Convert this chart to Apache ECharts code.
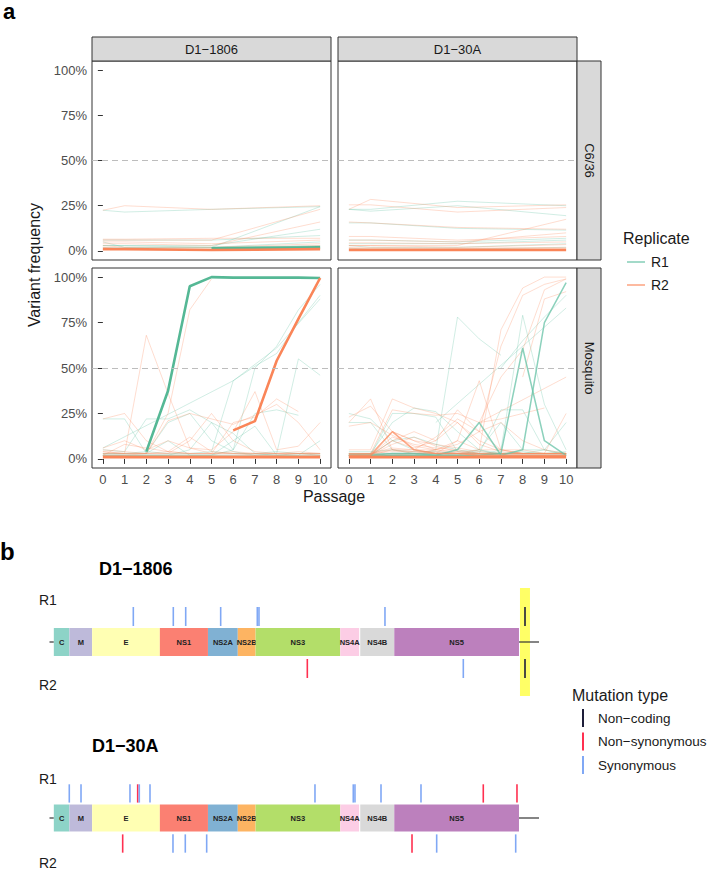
<!DOCTYPE html>
<html><head><meta charset="utf-8">
<script src="https://cdn.jsdelivr.net/npm/echarts@6/dist/echarts.min.js"></script>
<style>html,body{margin:0;padding:0;background:#fff}#chart{width:708px;height:870px}</style>
</head><body><div id="chart"></div>
<script>
// ---------------- DATA: panel a ----------------
const passagesC636 = [0, 1, 5, 10];
const passagesMosq = [0, 1, 2, 3, 4, 5, 6, 7, 8, 9, 10];
const yTicks = [0, 0.25, 0.5, 0.75, 1];
const xTicks = [0, 1, 2, 3, 4, 5, 6, 7, 8, 9, 10];
const strainNames = ['D1\u22121806', 'D1\u221230A'];
const hostNames = ['C6/36', 'Mosquito'];
const replicateNames = ['R1', 'R2'];

// C6/36, D1-1806
const c636_1806_R1 = [
  [0.225, 0.215, 0.23, 0.245],
  [0.03, 0.03, 0.02, 0.245],
  [0.03, 0.03, 0.03, 0.12],
  [0.06, 0.06, 0.06, 0.085],
  [0.05, 0.02, 0.02, 0.05],
  [0.02, 0.02, 0.02, 0.03],
  [0.01, 0.01, 0.01, 0.02]
];
const c636_1806_R2 = [
  [0.225, 0.25, 0.23, 0.25],
  [0.06, 0.06, 0.06, 0.23],
  [0.04, 0.04, 0.03, 0.16],
  [0.065, 0.065, 0.07, 0.07],
  [0.05, 0.05, 0.04, 0.06],
  [0.03, 0.02, 0.02, 0.04],
  [0.02, 0.01, 0.01, 0.03]
];
const c636_1806_R1_mid = [];
const c636_1806_R2_mid = [];
const c636_1806_R1_main = [[null, null, 0.015, 0.02]];
const c636_1806_R2_main = [[0.01, 0.01, 0.005, 0.01]];

// C6/36, D1-30A
const c636_30A_R1 = [
  [0.23, 0.23, 0.275, 0.25],
  [0.23, 0.22, 0.25, 0.195],
  [0.155, 0.155, 0.125, 0.115],
  [0.06, 0.06, 0.05, 0.07],
  [0.04, 0.04, 0.04, 0.06],
  [0.03, 0.02, 0.02, 0.04],
  [0.015, 0.01, 0.01, 0.02]
];
const c636_30A_R2 = [
  [0.23, 0.285, 0.24, 0.255],
  [0.255, 0.255, 0.215, 0.24],
  [0.16, 0.155, 0.13, 0.12],
  [0.08, 0.08, 0.06, 0.08],
  [0.03, 0.03, 0.03, 0.175],
  [0.06, 0.06, 0.05, 0.10],
  [0.045, 0.045, 0.04, 0.05],
  [0.03, 0.03, 0.02, 0.035],
  [0.02, 0.02, 0.015, 0.02]
];
const c636_30A_R1_mid = [];
const c636_30A_R2_mid = [];
const c636_30A_R1_main = [];
const c636_30A_R2_main = [[0.006, 0.006, 0.006, 0.006]];

// Mosquito, D1-1806
const mosq_1806_R1 = [
  [0.06, null, null, null, null, null, 0.43, null, 0.61, null, 0.88],
  [0.05, 0.04, 0.22, 0.22, 0.27, 0.2, 0.14, 0.03, 0.02, 0.02, 0.02],
  [0.02, 0.02, 0.02, 0.02, 0.02, 0.02, 0.05, 0.5, 0.62, 0.82, 0.96],
  [null, null, null, null, null, 0.04, 0.43, 0.51, 0.58, 0.75, 0.9],
  [0.02, 0.02, 0.02, 0.02, 0.02, 0.02, 0.02, 0.02, 0.03, 0.55, 0.46],
  [0.22, 0.22, 0.03, 0.2, 0.25, 0.1, 0.04, 0.02, 0.02, 0.03, 0.02],
  [0.02, 0.02, 0.02, 0.02, 0.05, 0.2, 0.05, 0.25, 0.27, 0.24, null],
  [0.03, 0.03, 0.03, 0.1, 0.02, 0.02, 0.1, 0.18, 0.02, 0.02, 0.1],
  [0.02, 0.02, 0.02, 0.02, 0.02, 0.02, 0.02, 0.02, 0.02, 0.02, 0.02],
  [0.03, 0.03, 0.04, 0.03, 0.03, 0.04, 0.03, 0.03, 0.04, 0.03, 0.03]
];
const mosq_1806_R2 = [
  [0.22, 0.25, 0.1, 0.04, 0.03, 0.03, 0.03, 0.03, 0.03, 0.03, 0.03],
  [0.03, 0.03, 0.68, 0.36, 0.06, 0.03, 0.03, 0.03, 0.03, 0.03, 0.03],
  [0.02, 0.02, 0.03, 0.25, 0.82, 0.99, null, null, null, null, null],
  [0.04, 0.03, 0.03, 0.03, 0.03, 0.03, 0.2, 0.23, 0.33, 0.26, null],
  [0.05, 0.04, 0.03, 0.21, 0.25, 0.22, 0.19, 0.24, 0.3, 0.2, 0.05],
  [0.03, 0.03, 0.03, 0.03, 0.1, 0.25, 0.1, 0.04, 0.03, 0.03, 0.03],
  [0.06, 0.1, 0.05, 0.1, 0.06, 0.05, 0.15, 0.37, 0.05, 0.07, 0.2],
  [0.02, 0.08, 0.06, 0.04, 0.12, 0.04, 0.03, 0.02, 0.02, 0.03, 0.02],
  [0.02, 0.02, 0.02, 0.02, 0.02, 0.02, 0.02, 0.02, 0.02, 0.02, 0.02],
  [0.04, 0.03, 0.03, 0.04, 0.03, 0.03, 0.04, 0.03, 0.03, 0.04, 0.03]
];
const mosq_1806_R1_mid = [];
const mosq_1806_R2_mid = [];
const mosq_1806_R1_main = [[null, null, 0.04, 0.375, 0.95, 1.0, 0.997, 0.997, 0.997, 0.997, 0.995]];
const mosq_1806_R2_main = [
  [0.01, 0.01, 0.01, 0.01, 0.01, 0.01, 0.01, 0.01, 0.01, 0.01, 0.01],
  [null, null, null, null, null, null, 0.157, 0.208, 0.54, 0.77, 0.995]
];

// Mosquito, D1-30A
const mosq_30A_R1 = [
  [0.02, 0.02, 0.02, 0.02, 0.05, 0.78, 0.66, 0.57, null, null, null],
  [null, null, null, null, 0.2, null, null, null, null, null, 0.83],
  [null, null, null, null, null, null, null, 0.5, 0.65, 0.78, 0.9],
  [0.25, 0.22, 0.1, 0.05, 0.03, 0.02, 0.02, 0.02, 0.02, 0.02, 0.02],
  [0.2, 0.2, 0.05, 0.03, 0.03, 0.03, 0.03, 0.03, 0.03, 0.03, 0.03],
  [0.03, 0.03, 0.2, 0.28, 0.26, 0.15, 0.05, 0.03, 0.03, 0.03, 0.03],
  [0.02, 0.02, 0.25, 0.25, 0.23, 0.04, 0.05, 0.02, 0.02, 0.02, 0.02],
  [0.02, 0.02, 0.02, 0.02, 0.02, 0.02, 0.05, 0.2, 0.05, 0.05, 0.02],
  [0.03, 0.03, 0.03, 0.03, 0.03, 0.03, 0.03, 0.27, 0.27, 0.05, 0.03],
  [0.02, 0.02, 0.02, 0.02, 0.02, 0.02, 0.02, 0.05, 0.79, 0.3, 0.05],
  [0.03, 0.03, 0.03, 0.03, 0.03, 0.03, 0.03, 0.03, 0.03, 0.05, 0.2],
  [0.02, 0.02, 0.1, 0.12, 0.08, 0.05, 0.03, 0.02, 0.02, 0.02, 0.02],
  [0.02, 0.02, 0.02, 0.02, 0.02, 0.02, 0.02, 0.02, 0.02, 0.02, 0.02],
  [0.04, 0.04, 0.05, 0.04, 0.04, 0.03, 0.04, 0.03, 0.04, 0.03, 0.04]
];
const mosq_30A_R2 = [
  [0.02, 0.02, 0.05, 0.03, 0.03, 0.1, 0.05, 0.71, 0.94, 1.0, 1.0],
  [0.02, 0.02, 0.03, 0.03, 0.05, 0.08, 0.15, 0.62, 0.9, 0.96, 0.99],
  [null, null, null, null, null, null, 0.2, 0.45, 0.6, 0.93, 0.99],
  [null, null, null, null, null, null, null, null, 0.45, 0.88, 0.92],
  [0.03, 0.03, 0.05, 0.05, 0.05, 0.1, 0.43, 0.05, 0.03, 0.03, 0.03],
  [null, null, null, null, null, null, 0.2, null, null, null, 0.45],
  [0.02, 0.02, 0.02, 0.03, 0.03, 0.03, 0.05, 0.05, 0.05, 0.03, 0.25],
  [0.2, 0.33, 0.05, 0.04, 0.04, 0.03, 0.03, 0.03, 0.03, 0.03, 0.03],
  [0.23, 0.29, 0.15, 0.1, 0.05, 0.03, 0.03, null, null, null, null],
  [0.05, 0.05, 0.33, 0.28, 0.25, 0.2, 0.1, 0.05, 0.03, 0.03, 0.03],
  [0.03, 0.03, 0.27, 0.25, 0.24, 0.25, 0.2, 0.22, 0.25, 0.28, null],
  [0.02, 0.02, 0.1, 0.15, 0.1, 0.27, 0.15, 0.2, 0.1, 0.05, 0.03],
  [0.02, 0.03, 0.15, 0.1, 0.08, 0.06, 0.04, 0.03, 0.03, 0.03, 0.03],
  [0.01, 0.02, 0.12, 0.08, 0.06, 0.05, 0.03, 0.03, 0.03, 0.03, 0.03],
  [0.02, 0.02, 0.08, 0.12, 0.07, 0.04, 0.03, 0.02, 0.02, 0.02, 0.02],
  [0.02, 0.02, 0.1, 0.06, 0.1, 0.2, 0.08, 0.04, 0.03, 0.03, 0.03],
  [0.03, 0.03, 0.06, 0.05, 0.12, 0.22, 0.15, 0.05, 0.03, 0.03, 0.03],
  [0.18, 0.2, 0.13, 0.07, 0.05, 0.04, 0.03, 0.03, 0.03, 0.03, 0.03],
  [0.02, 0.02, 0.02, 0.02, 0.02, 0.02, 0.02, 0.02, 0.02, 0.02, 0.02],
  [0.03, 0.03, 0.04, 0.04, 0.03, 0.03, 0.03, 0.03, 0.03, 0.03, 0.03]
];
const mosq_30A_R1_mid = [
  [0.02, 0.02, 0.03, 0.03, 0.02, 0.05, 0.2, 0.02, 0.05, 0.75, 0.97],
  [0.01, 0.01, 0.02, 0.02, 0.02, 0.02, 0.02, 0.03, 0.61, 0.1, 0.02]
];
const mosq_30A_R2_mid = [[0.02, 0.02, 0.15, 0.05, 0.03, 0.03, 0.02, 0.02, 0.02, 0.02, 0.02]];
const mosq_30A_R1_main = [];
const mosq_30A_R2_main = [[0.01, 0.01, 0.01, 0.01, 0.01, 0.01, 0.01, 0.01, 0.01, 0.01, 0.01]];

// ---------------- DATA: panel b ----------------
const genomeLength = 10735;
const geneNames = ['C', 'M', 'E', 'NS1', 'NS2A', 'NS2B', 'NS3', 'NS4A', 'NS4B', 'NS5'];
const geneStart = [95, 437, 935, 2420, 3476, 4130, 4520, 6377, 6815, 7561];
const geneEnd = [436, 934, 2419, 3475, 4129, 4519, 6376, 6790, 7560, 10296];
const utrStart = [0, 10296];
const utrEnd = [95, 10735];
const highlight1806 = [10318, 10537];

const mut1806_R1_pos = [1838, 2715, 2987, 3754, 4557, 4594, 7357, 10428];
const mut1806_R1_type = ['Synonymous', 'Synonymous', 'Synonymous', 'Synonymous', 'Synonymous', 'Synonymous', 'Synonymous', 'Non-coding'];
const mut1806_R2_pos = [5654, 9075, 10428];
const mut1806_R2_type = ['Non-synonymous', 'Synonymous', 'Non-coding'];
const mut30A_R1_pos = [434, 691, 1765, 1934, 1969, 2204, 5822, 6662, 6699, 7270, 8147, 9513, 10252];
const mut30A_R1_type = ['Synonymous', 'Synonymous', 'Synonymous', 'Non-synonymous', 'Synonymous', 'Synonymous', 'Synonymous', 'Synonymous', 'Synonymous', 'Synonymous', 'Synonymous', 'Non-synonymous', 'Non-synonymous'];
const mut30A_R2_pos = [1605, 2708, 2978, 3447, 7950, 8491, 10224];
const mut30A_R2_type = ['Non-synonymous', 'Synonymous', 'Synonymous', 'Synonymous', 'Non-synonymous', 'Synonymous', 'Synonymous'];
const mutationTypes = ['Non-coding', 'Non-synonymous', 'Synonymous'];
const mutationLabels = ['Non\u2212coding', 'Non\u2212synonymous', 'Synonymous'];

// ---------------- STYLE / LAYOUT ----------------
const FONT = '"Liberation Sans", Arial, sans-serif';
const repColors = { R1: '#66c2a5', R2: '#fc8d62' };
const repMainColors = { R1: '#55b895', R2: '#fa8558' };
const geneColors = ['#8dd3c7', '#bebada', '#ffffb3', '#fb8072', '#80b1d3', '#fdb462', '#b3de69', '#fccde5', '#d9d9d9', '#bc80bd'];
const mutColors = { 'Non-coding': '#1e1e3a', 'Non-synonymous': '#ff3050', 'Synonymous': '#80a8f5' };
const gridRects = [[92, 61, 239, 199], [338, 61, 239, 199], [92, 268, 239, 200], [338, 268, 239, 200]];
const bGridTops = [588, 766];

const panels = [
  { passages: passagesC636, R1: [c636_1806_R1, c636_1806_R1_mid, c636_1806_R1_main], R2: [c636_1806_R2, c636_1806_R2_mid, c636_1806_R2_main] },
  { passages: passagesC636, R1: [c636_30A_R1, c636_30A_R1_mid, c636_30A_R1_main], R2: [c636_30A_R2, c636_30A_R2_mid, c636_30A_R2_main] },
  { passages: passagesMosq, R1: [mosq_1806_R1, mosq_1806_R1_mid, mosq_1806_R1_main], R2: [mosq_1806_R2, mosq_1806_R2_mid, mosq_1806_R2_main] },
  { passages: passagesMosq, R1: [mosq_30A_R1, mosq_30A_R1_mid, mosq_30A_R1_main], R2: [mosq_30A_R2, mosq_30A_R2_mid, mosq_30A_R2_main] }
];
const levelStyles = [
  { width: 1, opacity: 0.3, z: 2 },
  { width: 1.5, opacity: 0.75, z: 3 },
  { width: 2.6, opacity: 1, z: 4 }
];

const grids = [], xAxes = [], yAxes = [], series = [];
gridRects.forEach((r, i) => {
  grids.push({ left: r[0], top: r[1], width: r[2], height: r[3], show: true, borderColor: '#333', borderWidth: 1, backgroundColor: '#fff', containLabel: false });
  xAxes.push({
    gridIndex: i, type: 'value', min: -0.5, max: 10.5,
    splitLine: { show: false }, axisLine: { show: false },
    axisTick: { show: i >= 2, customValues: xTicks, length: 5, lineStyle: { color: '#333' } },
    axisLabel: { show: i >= 2, customValues: xTicks, color: '#4d4d4d', fontSize: 13, margin: 5, fontFamily: FONT }
  });
  yAxes.push({
    gridIndex: i, type: 'value', min: -0.05, max: 1.05,
    splitLine: { show: false }, axisLine: { show: false },
    axisTick: { show: i % 2 === 0, customValues: yTicks, length: 5, lineStyle: { color: '#333' } },
    axisLabel: { show: i % 2 === 0, customValues: yTicks, color: '#4d4d4d', fontSize: 13, margin: 5, fontFamily: FONT,
      formatter: v => Math.round(v * 100) + '%' }
  });
});
// panel b grids
bGridTops.forEach(t => {
  grids.push({ left: 49.5, top: t, width: 489.5, height: 108, show: false });
});
bGridTops.forEach((t, k) => {
  xAxes.push({ gridIndex: 4 + k, type: 'value', min: 0, max: genomeLength, show: false });
  yAxes.push({ gridIndex: 4 + k, type: 'value', min: -54, max: 54, show: false });
});

// dashed 50% lines
gridRects.forEach((r, i) => {
  series.push({
    type: 'line', xAxisIndex: i, yAxisIndex: i, data: [], silent: true, z: 1,
    markLine: { silent: true, symbol: 'none', label: { show: false }, animation: false,
      lineStyle: { color: '#bdbdbd', type: [6, 4], width: 1 }, data: [{ yAxis: 0.5 }] }
  });
});

[0, 1, 2].forEach(level => {
  panels.forEach((p, gi) => {
    replicateNames.forEach(rep => {
      p[rep][level].forEach(traj => {
        const st = levelStyles[level];
        series.push({
          type: 'line', xAxisIndex: gi, yAxisIndex: gi, silent: true, connectNulls: true,
          symbol: 'none', showSymbol: false, z: st.z,
          lineStyle: { width: st.width, opacity: st.opacity, color: level === 2 ? repMainColors[rep] : repColors[rep] },
          data: p.passages.map((x, k) => [x, traj[k]])
        });
      });
    });
  });
});

// ---- panel b series ----
const BAR_H = 14;
function geneSeries(gi) {
  return {
    type: 'custom', xAxisIndex: gi, yAxisIndex: gi, silent: true, clip: false, z: 3,
    data: geneNames.map((n, i) => [geneStart[i], 0]),
    renderItem: (params, api) => {
      const i = params.dataIndex;
      const a = api.coord([geneStart[i], BAR_H]);
      const b = api.coord([geneEnd[i], -BAR_H]);
      return { type: 'group', children: [
        { type: 'rect', shape: { x: a[0], y: a[1], width: b[0] - a[0], height: b[1] - a[1] }, style: { fill: geneColors[i] } },
        { type: 'text', x: (a[0] + b[0]) / 2, y: (a[1] + b[1]) / 2,
          style: { text: geneNames[i], font: 'bold 7.5px ' + FONT, fill: '#222', align: 'center', verticalAlign: 'middle' } }
      ] };
    }
  };
}
function utrSeries(gi) {
  return {
    type: 'custom', xAxisIndex: gi, yAxisIndex: gi, silent: true, clip: false, z: 2,
    data: utrStart.map((s, i) => [s, 0]),
    renderItem: (params, api) => {
      const i = params.dataIndex;
      const a = api.coord([utrStart[i], 0]);
      const b = api.coord([utrEnd[i], 0]);
      return { type: 'line', shape: { x1: a[0], y1: a[1], x2: b[0], y2: b[1] }, style: { stroke: '#333', lineWidth: 1.2 } };
    }
  };
}
function mutSeries(gi, pos, types, up) {
  return {
    type: 'custom', xAxisIndex: gi, yAxisIndex: gi, silent: true, clip: false, z: 5,
    data: pos.map(p => [p, 0]),
    renderItem: (params, api) => {
      const i = params.dataIndex;
      const a = api.coord([pos[i], up ? 16 : -17]);
      const b = api.coord([pos[i], up ? 35 : -36]);
      return { type: 'line', shape: { x1: a[0], y1: a[1], x2: b[0], y2: b[1] }, style: { stroke: mutColors[types[i]], lineWidth: 1.6 } };
    }
  };
}
series.push({
  type: 'custom', xAxisIndex: 4, yAxisIndex: 4, silent: true, clip: false, z: 1,
  data: [[highlight1806[0], 0]],
  renderItem: (params, api) => {
    const a = api.coord([highlight1806[0], 54]);
    const b = api.coord([highlight1806[1], -54]);
    return { type: 'rect', shape: { x: a[0], y: a[1], width: b[0] - a[0], height: b[1] - a[1] }, style: { fill: '#ffff66' } };
  }
});
series.push(utrSeries(4), geneSeries(4), mutSeries(4, mut1806_R1_pos, mut1806_R1_type, true), mutSeries(4, mut1806_R2_pos, mut1806_R2_type, false));
series.push(utrSeries(5), geneSeries(5), mutSeries(5, mut30A_R1_pos, mut30A_R1_type, true), mutSeries(5, mut30A_R2_pos, mut30A_R2_type, false));

// ---- graphics (strips, titles, legends) ----
const graphic = [];
function txt(x, y, text, size, opts) {
  opts = opts || {};
  graphic.push({ type: 'text', x: x, y: y, rotation: opts.rotation || 0, z: 20,
    style: { text: text, font: (opts.bold ? 'bold ' : '') + size + 'px ' + FONT, fill: opts.color || '#1a1a1a',
      align: opts.align || 'left', verticalAlign: opts.valign || 'middle' } });
}
// top strips
[[92, 239], [338, 239]].forEach((s, i) => {
  graphic.push({ type: 'rect', z: 10, shape: { x: s[0], y: 37, width: s[1], height: 24 }, style: { fill: '#d9d9d9', stroke: '#333', lineWidth: 1 } });
  txt(s[0] + s[1] / 2, 49.5, strainNames[i], 13, { align: 'center' });
});
// right strips
[[61, 199], [268, 200]].forEach((s, i) => {
  graphic.push({ type: 'rect', z: 10, shape: { x: 577, y: s[0], width: 24, height: s[1] }, style: { fill: '#d9d9d9', stroke: '#333', lineWidth: 1 } });
  txt(589, s[0] + s[1] / 2, hostNames[i], 13, { align: 'center', rotation: -Math.PI / 2 });
});
txt(3, 0, 'a', 22, { bold: true, color: '#000', valign: 'top' });
txt(34, 265, 'Variant frequency', 16, { align: 'center', rotation: Math.PI / 2 });
txt(334, 496, 'Passage', 16, { align: 'center' });
// replicate legend
txt(623, 238, 'Replicate', 16);
replicateNames.forEach((r, i) => {
  const y = 262 + i * 23;
  graphic.push({ type: 'line', z: 20, shape: { x1: 627, y1: y, x2: 645, y2: y }, style: { stroke: repColors[r], lineWidth: 1.2 } });
  txt(651, y, r, 14);
});
// panel b texts
txt(0, 539, 'b', 24, { bold: true, color: '#000', valign: 'top' });
txt(99, 568.5, strainNames[0], 18, { bold: true, color: '#000' });
txt(92, 746, strainNames[1], 18, { bold: true, color: '#000' });
txt(39, 599.5, 'R1', 14);
txt(39, 685, 'R2', 14);
txt(39, 778.5, 'R1', 14);
txt(39, 862.5, 'R2', 14);
// mutation legend
txt(572, 695, 'Mutation type', 16);
mutationTypes.forEach((m, i) => {
  const yc = 718 + i * 23.5;
  graphic.push({ type: 'line', z: 20, shape: { x1: 583, y1: yc - 9, x2: 583, y2: yc + 9 }, style: { stroke: mutColors[m], lineWidth: 2 } });
  txt(598, yc, mutationLabels[i], 13.5);
});

const chart = echarts.init(document.getElementById('chart'), null, { renderer: 'svg' });
chart.setOption({
  animation: false,
  backgroundColor: '#fff',
  grid: grids,
  xAxis: xAxes,
  yAxis: yAxes,
  series: series,
  graphic: graphic
});
</script></body></html>
